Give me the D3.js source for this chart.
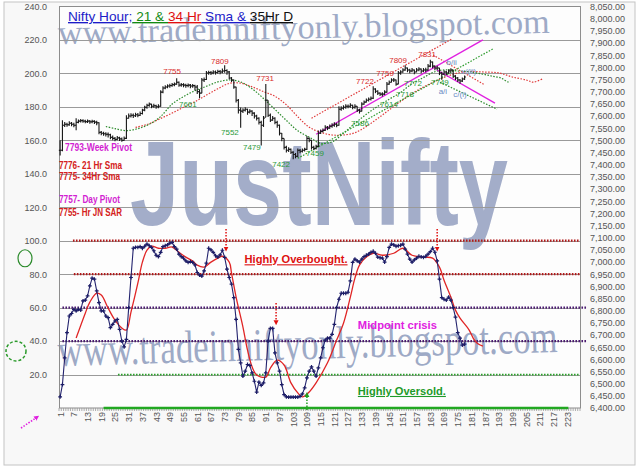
<!DOCTYPE html>
<html><head><meta charset="utf-8">
<script src="https://cdn.jsdelivr.net/npm/d3@7"></script>
<style>body{margin:0;background:#fff}svg{display:block}</style>
</head><body>
<svg id="c" width="640" height="467" font-family="Liberation Sans, Arial, sans-serif"></svg>
<script>
// ---------------- DATA ----------------
const tickLabels = d3.range(1, 224, 6);            // x-axis labels 1,7,...,223
const leftTicks = d3.range(20, 241, 20);            // 20.0 ... 240.0
const rightTicks = d3.range(6400, 8051, 50);        // 6,400.00 ... 8,050.00
const nCategories = 228;

// hourly price bars (right axis)
const high = [7500,7583,7575,7572,7578,7575,7572,7591,7586,7588,7587,7585,7586,7584,7585,7583,7580,7574,7538,7535,
7533,7532,7527,7520,7514,7518,7515,7512,7516,7603,7610,7611,7610,7613,7612,7618,7630,7642,7650,7655,
7650,7650,7646,7648,7706,7722,7726,7730,7733,7736,7738,7755,7742,7736,7735,7733,7734,7731,7732,7728,
7727,7710,7756,7758,7785,7786,7785,7788,7787,7790,7789,7795,7809,7792,7785,7760,7750,7720,7670,7635,
7632,7636,7630,7628,7624,7615,7605,7595,7580,7600,7731,7665,7610,7600,7595,7580,7565,7530,7508,7478,
7472,7466,7455,7448,7466,7464,7466,7470,7518,7512,7502,7478,7482,7540,7545,7549,7562,7559,7565,7570,
7574,7572,7640,7640,7644,7648,7647,7652,7646,7648,7640,7630,7656,7664,7672,7676,7680,7722,7714,7706,
7698,7698,7706,7740,7746,7755,7756,7750,7785,7788,7796,7809,7799,7794,7797,7791,7797,7800,7795,7797,
7798,7814,7831,7824,7808,7806,7798,7782,7788,7786,7792,7796,7790,7768,7760,7752,7758,7766];
const low = [7438,7455,7555,7556,7560,7558,7554,7541,7570,7573,7572,7570,7571,7568,7570,7567,7562,7525,7521,7519,
7516,7512,7504,7500,7496,7500,7497,7494,7498,7505,7590,7594,7592,7596,7595,7600,7606,7620,7630,7638,
7632,7634,7630,7632,7638,7694,7710,7714,7716,7720,7722,7728,7720,7720,7718,7716,7718,7714,7716,7705,
7690,7673,7694,7740,7748,7770,7768,7772,7770,7774,7772,7776,7778,7770,7750,7740,7712,7655,7610,7552,
7612,7618,7605,7610,7600,7590,7582,7565,7479,7555,7595,7596,7575,7580,7566,7552,7520,7496,7462,7450,
7452,7444,7422,7426,7430,7447,7450,7454,7460,7492,7462,7459,7462,7472,7526,7532,7538,7542,7548,7552,
7556,7554,7560,7622,7626,7630,7632,7634,7628,7630,7616,7610,7618,7646,7655,7660,7664,7670,7694,7686,
7682,7680,7686,7696,7728,7738,7740,7724,7730,7770,7778,7786,7780,7776,7780,7772,7780,7784,7776,7780,
7780,7786,7800,7796,7788,7788,7768,7749,7768,7768,7774,7778,7756,7748,7740,7733,7740,7748];
const close = [7459,7562,7566,7564,7570,7566,7562,7574,7579,7581,7579,7577,7579,7576,7578,7575,7572,7533,7529,7527,
7525,7523,7512,7508,7504,7510,7506,7500,7508,7591,7600,7603,7601,7605,7603,7610,7624,7636,7644,7649,
7640,7642,7638,7640,7698,7715,7719,7723,7725,7729,7731,7739,7727,7729,7727,7725,7727,7723,7725,7719,
7700,7694,7748,7750,7777,7779,7777,7781,7779,7783,7781,7785,7787,7781,7756,7748,7719,7665,7624,7620,
7624,7628,7616,7620,7612,7600,7591,7574,7562,7591,7665,7603,7583,7591,7574,7562,7529,7508,7471,7459,
7463,7451,7442,7434,7459,7455,7459,7463,7508,7500,7471,7467,7475,7529,7537,7541,7554,7550,7558,7562,
7566,7562,7628,7632,7636,7640,7640,7644,7636,7640,7624,7620,7649,7657,7665,7669,7673,7711,7702,7694,
7690,7690,7698,7731,7739,7748,7748,7731,7777,7781,7789,7797,7789,7785,7789,7781,7789,7793,7785,7789,
7789,7805,7822,7805,7797,7797,7777,7772,7781,7777,7785,7789,7764,7756,7748,7744,7752,7760];

// 21 and 34 hour SMA (right axis)
const sma21Cat = [21,25,30,35,40,45,50,55,60,65,70,75,80,85,90,95,100,105,110,115,120,125,130,135,140,145,150,155,160,165,170,175,180,183,187,190,194,197,198];
const sma21Val = [7557,7548,7540,7548,7566,7598,7649,7680,7704,7722,7740,7748,7740,7712,7672,7627,7582,7539,7513,7488,7494,7529,7570,7607,7640,7669,7697,7733,7758,7782,7790,7785,7782,7777,7770,7764,7756,7740,7744];
const sma34Cat = [34,40,45,50,55,60,65,70,75,80,85,90,95,100,105,110,115,120,125,130,135,140,145,150,155,160,165,170,176,181,186,193,199,205,208,212];
const sma34Val = [7553,7568,7590,7612,7636,7659,7686,7712,7734,7735,7720,7700,7681,7646,7597,7554,7533,7522,7522,7531,7557,7590,7625,7660,7692,7719,7742,7762,7779,7783,7781,7777,7760,7748,7739,7752];

// trend channels [category, price]
const chanUpRed = [[111,7591],[172.5,7917]];
const chanUpPink = [[113,7525],[186,7913]];
const chanUpGreen = [[105,7426],[190.4,7876]];
const chanDnRed = [[164.2,7851],[186.9,7727]];
const chanDnPink = [[165.9,7789],[191.3,7653]];
const chanDnGreen = [[167.2,7739],[192.2,7628]];

// oscillator (left axis)
const osc = [6.6,14,30,45,55,56.5,59,58,59,58.5,64,64.5,67,73,77.6,77,70,63,58,58,
55,54,48,50,52,53,47,40,36.5,41,60,78,95.5,96,96,96.5,95.5,96.7,98,97,
96,94,91.3,90.5,93,96.5,97,97.5,98.5,99,96.5,95,92,90.5,89.5,88,87,87.5,87,85.5,
81,79.4,78.8,82,86.6,95.5,94.5,93,91,90.2,91.5,94.3,90,83,78,74,66,53,35,27,
19,22,26,25.5,21,16,9.5,15.5,13.5,15,21,40,47.6,47.6,33,27,22,14,8,6.6,
6.5,6.5,6.5,6.5,6.5,7,8.4,12,18,22,24.6,22,19,24,30,36,40.6,41.8,41.8,44,
50,60,65,68.6,68.6,68.6,69.2,76,87,89,88,87.2,89,90.5,91.3,92,93,93.7,92.5,90.2,
89.8,89.6,87.2,90.5,96,98,97.5,96.7,97,97.3,98,95,92,89,87.2,88.5,89.6,90.7,90.3,90,
90.7,92,93.5,95.5,93.1,88,77,66,65,64.5,66.3,64.5,60,54.3,45,41.8,37.6,38.2];
const sigCat = [8,12,14,17,19,22,25,28,30,32,35,37,39,41,44,47,50,53,56,59,61,64,67,70,72,75,76,78,81,83,85,87,91,93,96,99,102,105,107,110,113,118,122,125,128,130,132,135,138,142,147,151,155,160,164,167,169,172,174,176,180,182,184,186];
const sigVal = [41.8,56.7,63.3,68.6,67.5,59.7,52.5,47.8,46.6,57.3,74.6,87.2,94.3,96.7,95.5,95.5,96.2,93.1,90.2,87.8,85.4,84.2,87.2,89.6,90.7,87.2,80.6,66.3,48.4,34.6,24.6,19.7,18.5,23.9,28.6,25.7,15,9,6.6,9.6,15,27,40.6,50.7,66.3,77.6,85.4,90.2,92.5,91.3,92.5,95.5,91.3,90.2,89.6,84.2,76.4,66.3,58.5,53.7,46.6,41.2,38.2,37];

// oscillator reference levels [value, fromCat, toCat]
const levOverbought = [[100,6.6,228.5],[80,7,228.5]];
const levMid = [[60,2,231.6],[40,2,231.6]];
const levOversold = [[20,26.3,228.5]];
const levZero = [[0,20,223.4]];

// annotation texts [text, category, price]
const redLabels = [["7755",50,7785],["7809",70.9,7826],["7731",90.7,7756],["7722",134.4,7744],["7759",143.2,7777],["7809",148.9,7830],["7831",161.6,7855]];
const greenLabels = [["7661",56.9,7649],["7552",75.3,7533],["7479",84.9,7471],["7422",97.7,7401],["7459",112.5,7447],["7586",132.2,7570],["7614",144.9,7649],["7718",151.9,7690],["7772",155.4,7735],["7749",167.2,7739]];
const waveLabels = [["b/ii",172.3,7822],["x/(ii)",179.8,7785],["a/i",168.5,7702],["c/(i)",176,7690]];
const sideNotes = [["7793-Week Pivot","#d21fd2",151,67,6],["7776- 21 Hr Sma","#d42020",169,63,0],["7775- 34Hr Sma","#d42020",180,61,0],["7757- Day Pivot","#d21fd2",203,61,0],["7755- Hr JN SAR","#d42020",216,63,0]];
// dotted arrows [category, fromValue, toValue] on oscillator axis
const redArrows = [[73.6,107,95],[166,107,95],[95.5,62.7,51]];
const greenArrows = [[109,-1.2,8]];

// ---------------- LAYOUT ----------------
const svg = d3.select("#c");
const X0 = 59, X1 = 580, Y0 = 6.5, Y1 = 408;
const x = d3.scaleLinear().domain([0.5, nCategories + 0.5]).range([X0, X1]);
const yL = d3.scaleLinear().domain([0, 240]).range([Y1, Y0]);
const yR = d3.scaleLinear().domain([6400, 8050]).range([Y1, Y0]);
const FONT = 'Liberation Sans, Arial, sans-serif';
const SERIF = 'Liberation Serif, Times New Roman, serif';

const defs = svg.append("defs");
function head(id, color){
  defs.append("marker").attr("id",id).attr("viewBox","0 0 10 10").attr("refX",5).attr("refY",5)
   .attr("markerWidth",5).attr("markerHeight",6).attr("orient","auto-start-reverse").attr("markerUnits","userSpaceOnUse")
   .append("path").attr("d","M0,0L10,5L0,10Z").attr("fill",color);
}
head("hRed","#e01010"); head("hGreen","#20a020"); head("hPink","#e020e0");

// backgrounds
svg.append("rect").attr("x",4).attr("y",2).attr("width",631).attr("height",463).attr("fill","#f8f8f8").attr("stroke","#c4c4c4");
svg.append("rect").attr("x",X0).attr("y",Y0).attr("width",X1-X0).attr("height",Y1-Y0).attr("fill","#fdfdfd");

// watermarks
const wm = svg.append("g").attr("fill","#9eaac6");
wm.append("text").attr("x",58).attr("y",44).attr("font-family",SERIF).attr("font-size",34).attr("textLength",492).attr("lengthAdjust","spacingAndGlyphs")
  .attr("transform","rotate(-1.3,58,44)").text("www.tradeinniftyonly.blogspot.com");
wm.append("text").attr("x",58).attr("y",366).attr("font-family",SERIF).attr("font-size",46).attr("textLength",500).attr("lengthAdjust","spacingAndGlyphs")
  .attr("transform","rotate(-1.6,58,366)").text("www.tradeinniftyonly.blogspot.com");
svg.append("text").attr("x",130).attr("y",225).attr("font-size",120).attr("font-weight","bold").attr("font-family",FONT)
  .attr("fill","#a3adc9").attr("textLength",378).attr("lengthAdjust","spacingAndGlyphs").text("JustNifty");

// gridlines
svg.append("g").selectAll("line").data(leftTicks.filter(d=>d<240)).join("line")
  .attr("x1",X0).attr("x2",X1).attr("y1",d=>Math.round(yL(d))+0.5).attr("y2",d=>Math.round(yL(d))+0.5)
  .attr("stroke","#9a9a9a").attr("stroke-width",1);
svg.append("rect").attr("x",X0+0.5).attr("y",Y0).attr("width",X1-X0).attr("height",Y1-Y0).attr("fill","none").attr("stroke","#8c8c8c");

// category tick marks
svg.append("g").selectAll("line").data(d3.range(0, nCategories+1)).join("line")
  .attr("x1",d=>x(d+0.5)).attr("x2",d=>x(d+0.5)).attr("y1",Y1).attr("y2",Y1+3).attr("stroke","#999").attr("stroke-width",0.8);

// oscillator levels
function levels(data, color, w, dash){
  svg.append("g").selectAll("line").data(data).join("line")
   .attr("x1",d=>x(d[1])).attr("x2",d=>x(d[2])).attr("y1",d=>yL(d[0])).attr("y2",d=>yL(d[0]))
   .attr("stroke",color).attr("stroke-width",w).attr("stroke-dasharray",dash);
}
levels(levOverbought,"#b01818",2.2,"1.6,1.4");
levels(levMid,"#4a1a70",2.2,"1.6,1.4");
levels(levOversold,"#2aa02a",1.8,"1.6,1.4");
levels(levZero,"#22a822",2.6,null);

// price SMAs and channels
const lineR = d3.line().x(d=>x(d[0])).y(d=>yR(d[1]));
const lineRc = d3.line().x(d=>x(d[0])).y(d=>yR(d[1])).curve(d3.curveCatmullRom);
function zip(a,b){ return a.map((v,i)=>[v,b[i]]); }
svg.append("path").attr("d",lineRc(zip(sma34Cat,sma34Val))).attr("fill","none").attr("stroke","#e03a3a").attr("stroke-width",1.2).attr("stroke-dasharray","1.5,1.5");
svg.append("path").attr("d",lineRc(zip(sma21Cat,sma21Val))).attr("fill","none").attr("stroke","#2a8a2a").attr("stroke-width",1.2).attr("stroke-dasharray","1.5,1.5");
[[chanUpRed,"#e03a3a","1.5,1.5"],[chanDnRed,"#e03a3a","1.5,1.5"],[chanUpGreen,"#2a9a2a","1.5,1.5"],[chanDnGreen,"#2a8a2a","1.5,1.5"],[chanUpPink,"#e020e0",null],[chanDnPink,"#e020e0",null]]
 .forEach(([d,c,da])=>svg.append("path").attr("d",lineR(d)).attr("fill","none").attr("stroke",c).attr("stroke-width",da?1.2:1.4).attr("stroke-dasharray",da));

// price bars
const bars = svg.append("g").attr("stroke","#161616").attr("stroke-width",1.1);
const bd = close.map((c,i)=>({i:i+1,h:high[i],l:low[i],c:c,o:i>0?Math.max(low[i],Math.min(high[i],close[i-1])):c}));
bars.selectAll(".hl").data(bd).join("line").attr("x1",d=>x(d.i)).attr("x2",d=>x(d.i)).attr("y1",d=>yR(d.h)).attr("y2",d=>yR(d.l));
bars.selectAll(".op").data(bd).join("line").attr("x1",d=>x(d.i)-1.3).attr("x2",d=>x(d.i)).attr("y1",d=>yR(d.o)).attr("y2",d=>yR(d.o));
bars.selectAll(".cl").data(bd).join("line").attr("x1",d=>x(d.i)).attr("x2",d=>x(d.i)+1.3).attr("y1",d=>yR(d.c)).attr("y2",d=>yR(d.c));

// oscillator
const lineL = d3.line().x(d=>x(d[0])).y(d=>yL(d[1]));
svg.append("path").attr("d",lineL.curve(d3.curveCatmullRom)(zip(sigCat,sigVal))).attr("fill","none").attr("stroke","#e02525").attr("stroke-width",1.3);
const oscPts = osc.map((v,i)=>[i+1,v]);
svg.append("path").attr("d",d3.line().x(d=>x(d[0])).y(d=>yL(d[1]))(oscPts)).attr("fill","none").attr("stroke","#23236e").attr("stroke-width",1.1);
svg.append("g").selectAll("path").data(oscPts).join("path")
  .attr("transform",d=>`translate(${x(d[0])},${yL(d[1])})`).attr("d","M-1.9,0H1.9M0,-1.9V1.9")
  .attr("stroke","#1c1c66").attr("stroke-width",1.2);

// arrows
svg.append("g").selectAll("line").data(redArrows).join("line")
  .attr("x1",d=>x(d[0])).attr("x2",d=>x(d[0])).attr("y1",d=>yL(d[1])).attr("y2",d=>yL(d[2]))
  .attr("stroke","#e01010").attr("stroke-width",1.5).attr("stroke-dasharray","1.5,1.5").attr("marker-end","url(#hRed)");
svg.append("g").selectAll("line").data(greenArrows).join("line")
  .attr("x1",d=>x(d[0])).attr("x2",d=>x(d[0])).attr("y1",d=>yL(d[1])).attr("y2",d=>yL(d[2]))
  .attr("stroke","#20a020").attr("stroke-width",1.5).attr("stroke-dasharray","1.5,1.5").attr("marker-end","url(#hGreen)");
svg.append("line").attr("x1",X0-38).attr("y1",yL(-12)).attr("x2",X0-22).attr("y2",yL(-5.5))
  .attr("stroke","#e020e0").attr("stroke-width",1.6).attr("stroke-dasharray","1.5,1.5").attr("marker-end","url(#hPink)");

// green circles in the left margin
svg.append("ellipse").attr("cx",X0-34).attr("cy",yL(89.5)).attr("rx",7).attr("ry",8.5).attr("fill","none").attr("stroke","#2a8a2a").attr("stroke-width",1.2);
svg.append("ellipse").attr("cx",X0-43).attr("cy",yL(34)).attr("rx",10).attr("ry",9.8).attr("fill","none").attr("stroke","#2a9a2a").attr("stroke-width",1.5).attr("stroke-dasharray","3,2");

// price labels
function plabels(data,color){
  svg.append("g").selectAll("text").data(data).join("text")
   .attr("x",d=>x(d[1])).attr("y",d=>yR(d[2])+3).attr("text-anchor","middle")
   .attr("font-size",8).attr("font-family",FONT).attr("fill",color).text(d=>d[0]);
}
plabels(redLabels,"#d82a2a"); plabels(greenLabels,"#2a9a3a"); plabels(waveLabels,"#6a8cc4");

// side notes
svg.append("g").selectAll("text").data(sideNotes).join("text")
  .attr("x",d=>X0+d[4]).attr("y",d=>d[2]).attr("fill",d=>d[1]).attr("font-size",10).attr("font-weight","bold")
  .attr("font-family",FONT).attr("textLength",d=>d[3]).attr("lengthAdjust","spacingAndGlyphs").text(d=>d[0]);

// oscillator zone labels
svg.append("text").attr("x",x(81.7)).attr("y",yL(86.5)).attr("fill","#dd1010").attr("font-size",11).attr("font-weight","bold")
  .attr("text-decoration","underline").attr("font-family",FONT).attr("textLength",103).attr("lengthAdjust","spacingAndGlyphs").text("Highly Overbought.");
svg.append("text").attr("x",x(131.3)).attr("y",yL(47)).attr("fill","#e020e0").attr("font-size",11).attr("font-weight","bold")
  .attr("font-family",FONT).attr("textLength",79).attr("lengthAdjust","spacingAndGlyphs").text("Midpoint crisis");
svg.append("text").attr("x",x(131.3)).attr("y",yL(7.8)).attr("fill","#1e9a2a").attr("font-size",11).attr("font-weight","bold")
  .attr("text-decoration","underline").attr("font-family",FONT).attr("textLength",88).attr("lengthAdjust","spacingAndGlyphs").text("Highly Oversold.");

// title
const t = svg.append("text").attr("x",68).attr("y",21).attr("font-size",13.6).attr("font-family",FONT)
  .attr("textLength",225).attr("lengthAdjust","spacingAndGlyphs");
[["Nifty Hour;","#1c1cc8"],[" 21 & ","#138a13"],["34 Hr","#e01010"],[" Sma & ","#1c1cc8"],["35Hr D","#111"]]
 .forEach(([s,c])=>t.append("tspan").attr("fill",c).attr("text-decoration","underline").text(s));

// axes
const axL = svg.append("g").attr("transform",`translate(${X0},0)`)
  .call(d3.axisLeft(yL).tickValues(leftTicks).tickFormat(d3.format(".1f")).tickSize(0).tickPadding(12));
axL.select(".domain").remove();
axL.selectAll("text").attr("font-size",9).attr("fill","#555").attr("font-family",FONT);

const axR = svg.append("g").attr("transform",`translate(${X1},0)`)
  .call(d3.axisRight(yR).tickValues(rightTicks).tickFormat(d3.format(",.2f")).tickSize(0).tickPadding(45));
axR.select(".domain").remove();
axR.selectAll("text").attr("text-anchor","end").attr("font-size",9).attr("fill","#555").attr("font-family",FONT);

const axB = svg.append("g").attr("transform",`translate(0,${Y1})`)
  .call(d3.axisBottom(x).tickValues(tickLabels).tickFormat(d3.format("d")).tickSize(0));
axB.select(".domain").remove();
axB.selectAll("text").attr("transform","rotate(-90)").attr("x",-4).attr("y",0).attr("dy","0.32em")
  .attr("text-anchor","end").attr("font-size",9).attr("fill","#555").attr("font-family",FONT);
</script>
</body></html>
